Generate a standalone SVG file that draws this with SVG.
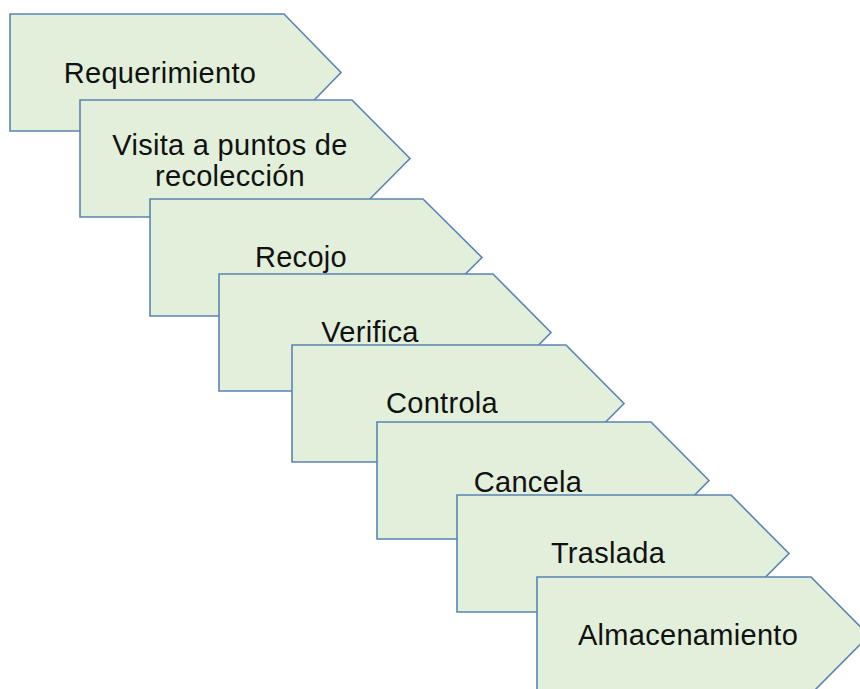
<svg xmlns="http://www.w3.org/2000/svg" width="860" height="689" viewBox="0 0 860 689">
<style>
.s{fill:#e2efda;stroke:#5b84b4;stroke-width:1.6;stroke-linejoin:miter}
.t{font-family:"Liberation Sans",Arial,sans-serif;font-size:29px;letter-spacing:0.3px;fill:#111;text-anchor:middle}
</style>
<rect width="860" height="689" fill="#fff"/>
<g id="connectors"></g>
<g id="n1"><path class="s" d="M10,14H284L341,72.5L284,131H10Z"/><text class="t" x="160" y="83">Requerimiento</text></g>
<g id="n2"><path class="s" d="M80,100H352L410,158.5L352,217H80Z"/><text class="t" x="230" y="155">Visita a puntos de</text><text class="t" x="230" y="186">recolección</text></g>
<g id="n3"><path class="s" d="M150,199H423L482,257.5L423,316H150Z"/><text class="t" x="301" y="267">Recojo</text></g>
<g id="n4"><path class="s" d="M219,274H493L551,332.5L493,391H219Z"/><text class="t" x="370" y="342">Verifica</text></g>
<g id="n5"><path class="s" d="M292,345H566L624,403.5L566,462H292Z"/><text class="t" x="442" y="413">Controla</text></g>
<g id="n6"><path class="s" d="M377,422H651L709,480.5L651,539H377Z"/><text class="t" x="528" y="492">Cancela</text></g>
<g id="n7"><path class="s" d="M457,495H731L789,553.5L731,612H457Z"/><text class="t" x="608" y="563">Traslada</text></g>
<g id="n8"><path class="s" d="M537,577H811L869,635.5L811,694H537Z"/><text class="t" x="688" y="645">Almacenamiento</text></g>
</svg>
